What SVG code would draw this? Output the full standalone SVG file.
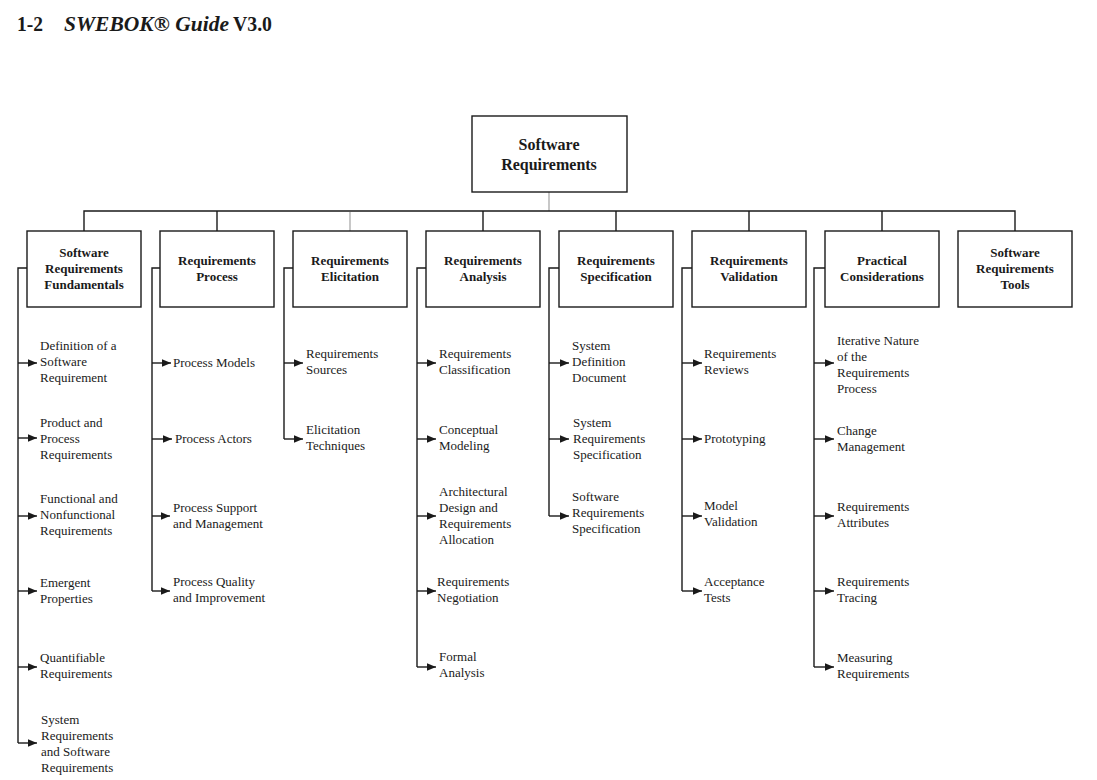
<svg xmlns="http://www.w3.org/2000/svg" width="1097" height="780" viewBox="0 0 1097 780">
<style>
.bg{fill:#ffffff}
.box{fill:#ffffff;stroke:#1a1a1a;stroke-width:1.4}
.ln{fill:none;stroke:#1a1a1a;stroke-width:1.4}
.gl{fill:none;stroke:#aaaaaa;stroke-width:1.3}
.ar{fill:none;stroke:#1a1a1a;stroke-width:1.4;marker-end:url(#ah)}
.t{font-family:"Liberation Serif","Times New Roman",serif;font-size:13px;fill:#1a1a1a}
.b{font-family:"Liberation Serif","Times New Roman",serif;font-size:13px;font-weight:bold;fill:#1a1a1a;text-anchor:middle}
.bt{font-family:"Liberation Serif","Times New Roman",serif;font-size:16px;font-weight:bold;fill:#1a1a1a;text-anchor:middle}
.h{font-family:"Liberation Serif","Times New Roman",serif;font-size:20px;font-weight:bold;fill:#1a1a1a}
</style>
<defs>
<marker id="ah" markerUnits="userSpaceOnUse" markerWidth="9" markerHeight="8" refX="9" refY="4" orient="auto">
<path d="M0,0.3 L9,4 L0,7.7 z" fill="#1a1a1a"/>
</marker>
</defs>
<rect class="bg" x="0" y="0" width="1097" height="780"/>
<g id="header">
<text class="h" x="17" y="31" textLength="26" lengthAdjust="spacingAndGlyphs">1-2</text>
<text class="h" x="64" y="31" font-style="italic" textLength="165" lengthAdjust="spacingAndGlyphs">SWEBOK® Guide</text>
<text class="h" x="233" y="31" textLength="39" lengthAdjust="spacingAndGlyphs">V3.0</text>
</g>
<g id="connectors">
<path class="gl" d="M549,192 V211"/>
<path class="ln" d="M84,231 V211 H1015 V231"/>
<path class="ln" d="M217,211 V231 M483,211 V231 M616,211 V231 M749,211 V231 M882,211 V231"/>
<path class="gl" d="M350,212 V231"/>
<path class="ln" d="M27,268 H18 V743"/>
<path class="ar" d="M18,363 H37"/><path class="ar" d="M18,438 H37"/><path class="ar" d="M18,516 H37"/><path class="ar" d="M18,591 H37"/><path class="ar" d="M18,667 H37"/><path class="ar" d="M18,743 H37"/>
<path class="ln" d="M160,268 H152 V591"/>
<path class="ar" d="M152,363 H171"/><path class="ar" d="M152,439 H172"/><path class="ar" d="M152,516 H170"/><path class="ar" d="M152,591 H170"/>
<path class="ln" d="M293,268 H284 V439"/>
<path class="ar" d="M284,363 H303"/><path class="ar" d="M284,439 H303"/>
<path class="ln" d="M426,268 H417 V667"/>
<path class="ar" d="M417,363 H436"/><path class="ar" d="M417,439 H436"/><path class="ar" d="M417,516 H436"/><path class="ar" d="M417,591 H436"/><path class="ar" d="M417,667 H436"/>
<path class="ln" d="M559,268 H549 V516"/>
<path class="ar" d="M549,363 H569"/><path class="ar" d="M549,439 H569"/><path class="ar" d="M549,516 H569"/>
<path class="ln" d="M692,268 H682 V591"/>
<path class="ar" d="M682,363 H702"/><path class="ar" d="M682,439 H702"/><path class="ar" d="M682,516 H702"/><path class="ar" d="M682,591 H702"/>
<path class="ln" d="M825,268 H814 V667"/>
<path class="ar" d="M814,363 H834"/><path class="ar" d="M814,439 H834"/><path class="ar" d="M814,516 H834"/><path class="ar" d="M814,591 H834"/><path class="ar" d="M814,667 H834"/>
</g>
<g id="root">
<rect class="box" x="472" y="116" width="155" height="76"/>
<text class="bt" x="549" y="150">Software</text>
<text class="bt" x="549" y="170">Requirements</text>
</g>
<g id="fundamentals">
<rect class="box" x="27" y="231" width="114" height="76"/>
<text class="b" x="84" y="256.5">Software</text>
<text class="b" x="84" y="272.5">Requirements</text>
<text class="b" x="84" y="288.5">Fundamentals</text>
</g>
<g id="process">
<rect class="box" x="160" y="231" width="114" height="76"/>
<text class="b" x="217" y="264.5">Requirements</text>
<text class="b" x="217" y="280.5">Process</text>
</g>
<g id="elicitation">
<rect class="box" x="293" y="231" width="114" height="76"/>
<text class="b" x="350" y="264.5">Requirements</text>
<text class="b" x="350" y="280.5">Elicitation</text>
</g>
<g id="analysis">
<rect class="box" x="426" y="231" width="114" height="76"/>
<text class="b" x="483" y="264.5">Requirements</text>
<text class="b" x="483" y="280.5">Analysis</text>
</g>
<g id="specification">
<rect class="box" x="559" y="231" width="114" height="76"/>
<text class="b" x="616" y="264.5">Requirements</text>
<text class="b" x="616" y="280.5">Specification</text>
</g>
<g id="validation">
<rect class="box" x="692" y="231" width="114" height="76"/>
<text class="b" x="749" y="264.5">Requirements</text>
<text class="b" x="749" y="280.5">Validation</text>
</g>
<g id="practical">
<rect class="box" x="825" y="231" width="114" height="76"/>
<text class="b" x="882" y="264.5">Practical</text>
<text class="b" x="882" y="280.5">Considerations</text>
</g>
<g id="tools">
<rect class="box" x="958" y="231" width="114" height="76"/>
<text class="b" x="1015" y="256.5">Software</text>
<text class="b" x="1015" y="272.5">Requirements</text>
<text class="b" x="1015" y="288.5">Tools</text>
</g>
<g id="fundamentals-items">
<text class="t" x="40" y="349.5">Definition of a</text><text class="t" x="40" y="365.5">Software</text><text class="t" x="40" y="381.5">Requirement</text>
<text class="t" x="40" y="426.5">Product and</text><text class="t" x="40" y="442.5">Process</text><text class="t" x="40" y="458.5">Requirements</text>
<text class="t" x="40" y="502.5">Functional and</text><text class="t" x="40" y="518.5">Nonfunctional</text><text class="t" x="40" y="534.5">Requirements</text>
<text class="t" x="40" y="586.5">Emergent</text><text class="t" x="40" y="602.5">Properties</text>
<text class="t" x="40" y="661.5">Quantifiable</text><text class="t" x="40" y="677.5">Requirements</text>
<text class="t" x="41" y="723.5">System</text><text class="t" x="41" y="739.5">Requirements</text><text class="t" x="41" y="755.5">and Software</text><text class="t" x="41" y="771.5">Requirements</text>
</g>
<g id="process-items">
<text class="t" x="173" y="366.5">Process Models</text>
<text class="t" x="175" y="442.5">Process Actors</text>
<text class="t" x="173" y="511.5">Process Support</text><text class="t" x="173" y="527.5">and Management</text>
<text class="t" x="173" y="585.5">Process Quality</text><text class="t" x="173" y="601.5">and Improvement</text>
</g>
<g id="elicitation-items">
<text class="t" x="306" y="357.5">Requirements</text><text class="t" x="306" y="373.5">Sources</text>
<text class="t" x="306" y="433.5">Elicitation</text><text class="t" x="306" y="449.5">Techniques</text>
</g>
<g id="analysis-items">
<text class="t" x="439" y="357.5">Requirements</text><text class="t" x="439" y="373.5">Classification</text>
<text class="t" x="439" y="433.5">Conceptual</text><text class="t" x="439" y="449.5">Modeling</text>
<text class="t" x="439" y="495.5">Architectural</text><text class="t" x="439" y="511.5">Design and</text><text class="t" x="439" y="527.5">Requirements</text><text class="t" x="439" y="543.5">Allocation</text>
<text class="t" x="437" y="585.5">Requirements</text><text class="t" x="437" y="601.5">Negotiation</text>
<text class="t" x="439" y="660.5">Formal</text><text class="t" x="439" y="676.5">Analysis</text>
</g>
<g id="specification-items">
<text class="t" x="572" y="349.5">System</text><text class="t" x="572" y="365.5">Definition</text><text class="t" x="572" y="381.5">Document</text>
<text class="t" x="573" y="426.5">System</text><text class="t" x="573" y="442.5">Requirements</text><text class="t" x="573" y="458.5">Specification</text>
<text class="t" x="572" y="500.5">Software</text><text class="t" x="572" y="516.5">Requirements</text><text class="t" x="572" y="532.5">Specification</text>
</g>
<g id="validation-items">
<text class="t" x="704" y="357.5">Requirements</text><text class="t" x="704" y="373.5">Reviews</text>
<text class="t" x="704" y="442.5">Prototyping</text>
<text class="t" x="704" y="509.5">Model</text><text class="t" x="704" y="525.5">Validation</text>
<text class="t" x="704" y="585.5">Acceptance</text><text class="t" x="704" y="601.5">Tests</text>
</g>
<g id="practical-items">
<text class="t" x="837" y="344.5">Iterative Nature</text><text class="t" x="837" y="360.5">of the</text><text class="t" x="837" y="376.5">Requirements</text><text class="t" x="837" y="392.5">Process</text>
<text class="t" x="837" y="434.5">Change</text><text class="t" x="837" y="450.5">Management</text>
<text class="t" x="837" y="510.5">Requirements</text><text class="t" x="837" y="526.5">Attributes</text>
<text class="t" x="837" y="585.5">Requirements</text><text class="t" x="837" y="601.5">Tracing</text>
<text class="t" x="837" y="661.5">Measuring</text><text class="t" x="837" y="677.5">Requirements</text>
</g>
</svg>
